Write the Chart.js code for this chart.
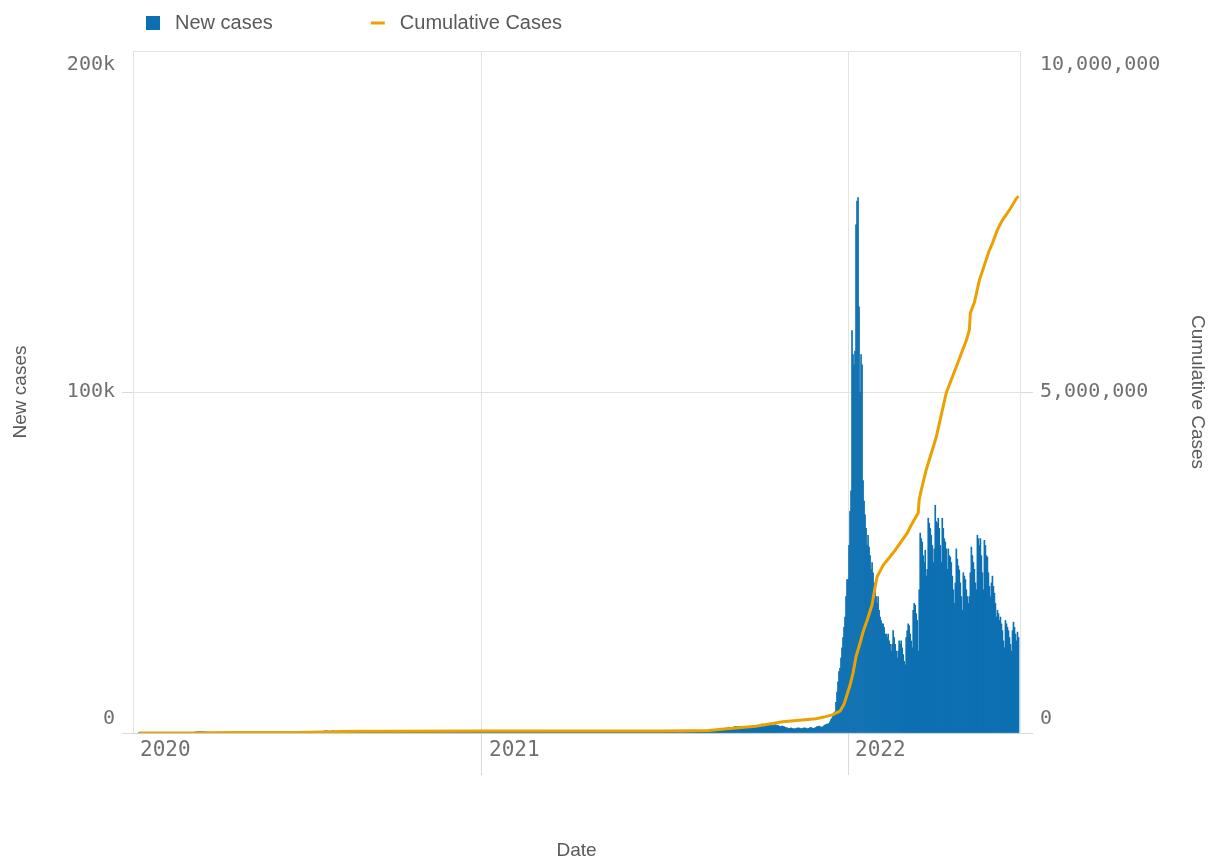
<!DOCTYPE html>
<html>
<head>
<meta charset="utf-8">
<title>New cases / Cumulative Cases</title>
<script src="https://cdn.jsdelivr.net/npm/chart.js@4.4.1/dist/chart.umd.min.js"></script>
<style>
  html, body { margin: 0; padding: 0; background: #fff; }
  #wrap { width: 1213px; height: 860px; }
</style>
</head>
<body>
<div id="wrap"><canvas id="chart"></canvas></div>
<script>
// daily new cases, first value is casesStart, one value per day (one line per month)
const casesStart = '2020-01-25';
const newCases2020 = [
  1,3,0,0,1,0,2,
  0,2,0,1,0,0,0,0,0,0,0,0,0,0,0,0,0,0,0,0,0,2,0,0,0,0,0,0,2,
  2,4,8,11,8,14,10,17,16,20,26,27,54,50,73,77,84,98,148,180,255,339,382,365,353,411,367,459,317,308,286,
  300,216,255,160,135,111,88,86,90,63,97,57,35,38,37,27,35,26,24,39,20,15,15,13,16,12,17,20,15,18,
  16,14,10,13,17,20,16,14,20,18,12,9,15,16,20,17,11,14,13,16,15,12,8,10,12,14,13,18,15,16,12,
  8,9,12,10,13,11,7,8,10,9,11,15,12,14,17,18,20,22,21,25,24,31,26,38,33,36,43,49,52,72,
  81,78,95,115,129,135,161,178,203,225,218,229,197,276,280,320,322,430,391,384,370,502,425,468,358,495,547,371,723,532,627,
  397,418,476,451,749,494,481,508,398,379,359,261,306,405,320,318,301,227,265,218,224,186,225,140,151,182,152,114,80,85,73,
  74,80,100,74,71,52,52,68,54,54,47,52,48,40,49,37,36,31,21,22,16,26,20,16,20,17,21,24,17,21,
  18,22,16,17,13,17,14,25,22,18,20,14,17,13,22,16,9,12,14,11,13,10,16,12,20,14,12,6,12,9,11,
  8,11,5,12,9,6,11,8,7,7,9,10,11,8,11,17,15,12,11,14,8,5,9,6,8,9,6,11,9,8,
  8,16,7,10,9,11,7,10,8,9,11,9,8,9,14,11,17,35,44,40,32,27,25,28,31,30,20,18,21,26,30
];
const newCases2021 = [
  32,22,15,17,10,17,14,21,18,17,9,10,6,8,9,7,9,6,3,8,4,5,6,8,6,6,4,4,5,6,3,
  5,4,6,10,8,7,9,5,10,13,12,9,14,8,6,5,4,3,4,5,4,7,6,5,6,5,7,8,
  5,8,10,6,7,9,10,8,11,12,10,9,8,7,10,15,14,12,11,16,9,12,14,18,15,11,13,16,20,17,14,
  15,18,12,10,9,11,14,13,10,12,9,8,11,13,12,16,10,9,11,8,14,9,12,10,13,11,9,8,10,12,
  11,9,10,13,8,12,9,7,11,10,8,14,9,10,12,8,7,11,9,10,13,11,12,9,16,20,18,15,14,12,13,
  10,15,12,14,11,9,13,10,11,12,16,13,14,12,10,11,17,20,15,18,24,28,22,35,40,37,45,38,34,41,
  35,38,44,48,40,51,47,55,62,70,82,95,103,108,105,123,140,138,145,162,150,158,175,190,165,176,185,220,240,245,262,
  228,250,240,255,300,330,356,370,346,380,395,430,470,520,490,500,530,700,720,800,860,900,920,940,990,1050,1130,1200,1280,1250,1180,
  1390,1430,1480,1690,1620,1550,1620,1660,1640,1890,1900,1870,1810,1900,1950,1920,1990,1850,1820,1600,1650,1720,1830,1820,1720,1700,1650,1600,1750,2140,
  1940,1870,2160,1870,2000,2220,2620,2570,2430,2140,2030,2280,2740,2730,2700,2600,2510,2200,2180,2380,2400,2200,2280,2100,1930,1820,2060,1950,1900,1700,1600,
  1480,1410,1250,1350,1520,1380,1300,1250,1200,1280,1450,1420,1480,1350,1280,1220,1400,1530,1450,1420,1300,1250,1400,1580,1620,1500,1350,1300,1550,1600,
  1850,1900,2000,1850,1700,1650,1900,2100,2300,2500,2650,2600,2750,3250,3900,4350,5000,5900,6200,9000,12000,15000,18000,19000,22000,25000,28000,31000,34000,40000,45000
];
const newCases2022 = [
  45000,55000,65000,71000,118000,111000,108000,112000,149000,156000,157000,125000,100000,111000,108000,74000,68000,64000,60000,55000,58000,54500,52000,48000,50000,47000,44000,42000,40000,38000,40000,
  36000,34000,33000,32000,32000,31000,29000,29000,28000,29000,27000,26000,24000,26000,30000,28000,26000,24000,22000,24000,27000,26000,27000,25000,23000,21000,20000,28000,
  30000,32000,31500,29000,27000,25000,36000,38000,37500,35000,33000,24000,42000,58600,57000,56000,52000,50000,53600,46000,48000,63000,61500,60000,58000,55000,50000,54000,66800,62000,61500,
  63000,60000,55000,50000,63000,60000,57000,56000,54000,48000,54000,52000,51600,50000,46000,42000,38000,44000,54000,51000,49000,47800,44000,40000,36000,47000,46000,45000,42000,40000,
  38000,40000,47000,54500,52000,50000,48000,44000,42000,58000,57000,55000,57000,52000,47000,42000,56500,55000,52000,51600,47000,43000,40000,44000,46000,43000,41000,38000,34000,36000,35000,
  33000,34000,32000,30000,27000,25000,33000,32000,31000,30000,28000,26000,24000,30000,32500,31000,29000,27000,29600,28000
];

// cumulative cases, read at the dates below
const cumDates = [
  '2020-01-25','2020-03-10','2020-03-20','2020-04-01','2020-04-30','2020-06-30','2020-07-15','2020-08-05',
  '2020-08-15','2020-09-01','2020-10-01','2020-12-31','2021-06-30','2021-07-31','2021-08-15','2021-09-08',
  '2021-10-01','2021-10-28','2021-11-30','2021-12-10','2021-12-17','2021-12-24','2021-12-28','2021-12-31',
  '2022-01-03','2022-01-06','2022-01-09','2022-01-13','2022-01-16','2022-01-20','2022-01-25','2022-01-28',
  '2022-01-30','2022-02-05','2022-02-17','2022-03-01','2022-03-04','2022-03-12','2022-03-13','2022-03-15',
  '2022-03-20','2022-03-30','2022-04-09','2022-04-19','2022-04-29','2022-05-02','2022-05-03','2022-05-07',
  '2022-05-12','2022-05-17','2022-05-22','2022-05-25','2022-05-30','2022-06-04','2022-06-11','2022-06-18','2022-06-20'
];
const cumCases = [
  0,100,900,4900,6750,7900,10000,19000,
  22500,25700,27100,28400,30600,34000,38000,70000,
  100000,165000,210000,240000,270000,320000,420000,560000,
  700000,880000,1120000,1320000,1480000,1650000,1880000,2140000,
  2290000,2460000,2680000,2930000,3020000,3230000,3420000,3560000,
  3860000,4340000,4990000,5370000,5760000,5910000,6160000,6310000,
  6640000,6860000,7080000,7180000,7380000,7520000,7670000,7840000,7870000
];

// axis ticks
const axisStart = '2020-01-19';
const axisEnd = '2022-06-21';
const yearTickDates = ['2020-01-19', '2021-01-01', '2022-01-01'];
const yearLabels = ['2020', '2021', '2022'];
const leftTicks = [0, 100000, 200000];
const leftLabels = ['0', '100k', '200k'];
const rightTicks = [0, 5000000, 10000000];
const rightLabels = ['0', '5,000,000', '10,000,000'];

const BLUE = '#0d70b2';
const ORANGE = '#e9a201';
const GRID = '#e3e3e3';
const TEXT = '#595959';
const TICK_TEXT = '#707070';
const SANS = "'Liberation Sans', Arial, sans-serif";
const MONO = "'DejaVu Sans Mono', monospace";

// day number counted from 2020-01-01
const dayOf = s => (Date.parse(s) - Date.parse('2020-01-01')) / 86400000;

const allCases = [...newCases2020, ...newCases2021, ...newCases2022];
const first = dayOf(casesStart);
const barData = allCases.map((v, i) => ({ x: first + i, y: v }));
const lineData = cumDates.map((d, i) => ({ x: dayOf(d), y: cumCases[i] }));

// outer labels of a y axis sit inside the plot: shift them with an empty line
function shifted(labels, i) {
    if (i === 0) return [labels[i], ''];
    if (i === labels.length - 1) return ['', labels[i]];
    return labels[i];
}

const legendHeight = {
    id: 'legendHeight',
    beforeInit(chart) {
        const fit = chart.legend.fit;
        chart.legend.fit = function () {
            fit.call(this);
            this.height = 51;
        };
    }
};

new Chart(document.getElementById('chart'), {
    type: 'bar',
    data: {
        datasets: [
            {
                type: 'line',
                label: 'Cumulative Cases',
                data: lineData,
                yAxisID: 'y2',
                borderColor: ORANGE,
                backgroundColor: ORANGE,
                borderWidth: 3,
                pointRadius: 0,
                pointHoverRadius: 0,
                pointStyle: 'line',
                pointBorderWidth: 3,
                tension: 0,
                fill: false
            },
            {
                label: 'New cases',
                data: barData,
                yAxisID: 'y',
                backgroundColor: BLUE,
                borderWidth: 0,
                barPercentage: 1,
                categoryPercentage: 1,
                pointStyle: 'rect'
            }
        ]
    },
    options: {
        responsive: true,
        maintainAspectRatio: false,
        animation: false,
        layout: { padding: 0 },
        plugins: {
            tooltip: { enabled: false },
            legend: {
                position: 'top',
                align: 'start',
                fullSize: false,
                labels: {
                    usePointStyle: true,
                    pointStyleWidth: 14,
                    boxHeight: 14,
                    padding: 13,
                    color: TEXT,
                    font: { family: SANS, size: 20 },
                    sort: (a, b) => b.datasetIndex - a.datasetIndex,
                    generateLabels(chart) {
                        const items = Chart.defaults.plugins.legend.labels.generateLabels(chart);
                        items.forEach(it => {
                            it.text = '\u2005' + it.text;
                            if (it.datasetIndex === 1) it.text += '\u2002'.repeat(8) + '\u2005';
                        });
                        return items;
                    }
                }
            }
        },
        scales: {
            x: {
                type: 'linear',
                min: dayOf(axisStart),
                max: dayOf(axisEnd) + 0.5,
                offset: false,
                afterBuildTicks: scale => {
                    scale.ticks = yearTickDates.map(d => ({ value: dayOf(d) }));
                },
                afterFit: scale => { scale.height = 127; },
                grid: {
                    offset: false,
                    color: GRID,
                    tickLength: 42,
                    tickColor: ctx => ctx.index === 0 ? 'rgba(0,0,0,0)' : '#dadada'
                },
                border: { display: true, color: '#cfcfcf' },
                ticks: {
                    align: 'start',
                    labelOffset: 7,
                    padding: -37,
                    maxRotation: 0,
                    autoSkip: false,
                    color: TICK_TEXT,
                    font: { family: MONO, size: 21 },
                    callback: (v, i) => yearLabels[i]
                },
                title: {
                    display: true,
                    text: 'Date',
                    color: TEXT,
                    font: { family: SANS, size: 19, lineHeight: 1 },
                    padding: { top: 0, bottom: 0 }
                }
            },
            y: {
                position: 'left',
                min: 0,
                max: 200000,
                afterBuildTicks: scale => {
                    scale.ticks = leftTicks.map(v => ({ value: v }));
                },
                afterFit: scale => { scale.width = 133; },
                grid: {
                    color: GRID,
                    tickLength: 11,
                    tickColor: ctx => ctx.index === leftTicks.length - 1 ? 'rgba(0,0,0,0)' : '#dadada'
                },
                border: { display: true, color: GRID },
                ticks: {
                    padding: 7,
                    color: TICK_TEXT,
                    font: { family: MONO, size: 20, lineHeight: 1.4 },
                    callback: (v, i) => shifted(leftLabels, i)
                },
                title: {
                    display: true,
                    text: 'New cases',
                    color: TEXT,
                    font: { family: SANS, size: 19, lineHeight: 1 },
                    padding: { top: 11, bottom: 0 }
                }
            },
            y2: {
                position: 'right',
                min: 0,
                max: 10000000,
                afterBuildTicks: scale => {
                    scale.ticks = rightTicks.map(v => ({ value: v }));
                },
                afterFit: scale => { scale.width = 193; },
                grid: {
                    drawOnChartArea: false,
                    tickLength: 13,
                    tickColor: ctx => ctx.index === rightTicks.length - 1 ? 'rgba(0,0,0,0)' : '#dadada'
                },
                border: { display: true, color: GRID },
                ticks: {
                    padding: 7,
                    color: TICK_TEXT,
                    font: { family: MONO, size: 20, lineHeight: 1.4 },
                    callback: (v, i) => shifted(rightLabels, i)
                },
                title: {
                    display: true,
                    text: 'Cumulative Cases',
                    color: TEXT,
                    font: { family: SANS, size: 19, lineHeight: 1 },
                    padding: { top: 6, bottom: 0 }
                }
            }
        }
    },
    plugins: [legendHeight]
});
</script>
</body>
</html>
